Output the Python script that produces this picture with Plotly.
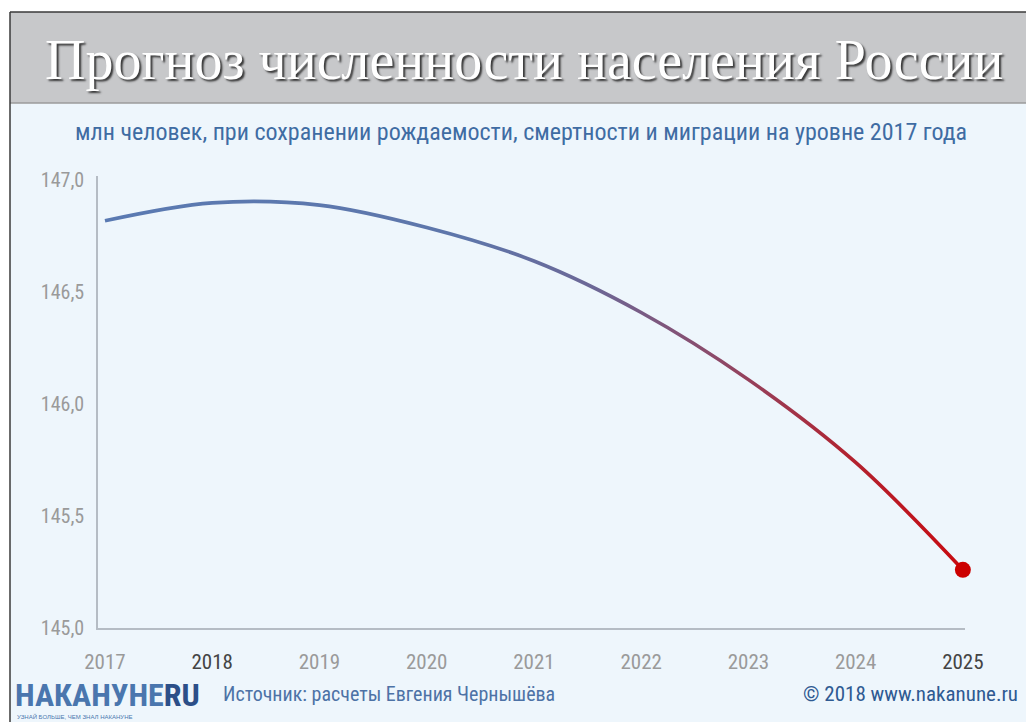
import plotly.graph_objects as go

# ---- data ----
years = [2017, 2018, 2019, 2020, 2021, 2022, 2023, 2024, 2025]
population = [146.82, 146.90, 146.89, 146.79, 146.64, 146.41, 146.11, 145.74, 145.26]
y_ticks = [145.0, 145.5, 146.0, 146.5, 147.0]
y_tick_labels = ["145,0", "145,5", "146,0", "146,5", "147,0"]
x_tick_labels = ["2017", "2018", "2019", "2020", "2021", "2022", "2023", "2024", "2025"]
highlight_years = ["2018", "2025"]

title_text = "Прогноз численности населения России"
subtitle_text = "млн человек, при сохранении рождаемости, смертности и миграции на уровне 2017 года"
source_text = "Источник: расчеты Евгения Чернышёва"
copyright_text = "© 2018 www.nakanune.ru"

W, H = 1026, 722
L, R, T, B = 98, 61, 176, 94
PW, PH = W - L - R, H - T - B


def px(x):
    return (x - L) / PW


def py(y):
    return (H - B - y) / PH


NARROW = "Liberation Sans Narrow, Roboto Condensed, Roboto, sans-serif"

fig = go.Figure()

fig.add_trace(go.Scatter(
    x=years, y=population, mode="lines",
    line=dict(color="#5a7ab2", width=3.6, shape="spline", smoothing=1.0),
    hoverinfo="skip", showlegend=False, cliponaxis=False,
))
fig.add_trace(go.Scatter(
    x=years[-1:], y=population[-1:], mode="markers",
    marker=dict(color="#cc0000", size=16, line=dict(width=0)),
    hoverinfo="skip", showlegend=False, cliponaxis=False,
))

tick_text = []
for t in x_tick_labels:
    if t in highlight_years:
        tick_text.append(f"<span style='color:#444444'>{t}</span>")
    else:
        tick_text.append(t)

shapes = [
    dict(type="rect", xref="paper", yref="paper", x0=px(10), x1=px(W + 5), y0=py(103), y1=py(12),
         fillcolor="#c7c8ca", line=dict(width=0), layer="below"),
    dict(type="line", xref="paper", yref="paper", x0=px(10), x1=px(W + 5), y0=py(103), y1=py(103),
         line=dict(color="#9b9b9b", width=1.5), layer="below"),
    dict(type="rect", xref="paper", yref="paper", x0=px(-5), x1=px(10), y0=py(H + 5), y1=py(-5),
         fillcolor="white", line=dict(width=0), layer="below"),
    dict(type="rect", xref="paper", yref="paper", x0=px(-5), x1=px(W + 5), y0=py(12), y1=py(-5),
         fillcolor="white", line=dict(width=0), layer="below"),
    dict(type="line", xref="paper", yref="paper", x0=px(10), x1=px(10), y0=py(H + 5), y1=py(12),
         line=dict(color="#3a3a3a", width=1.5), layer="below"),
    dict(type="line", xref="paper", yref="paper", x0=px(10), x1=px(W + 5), y0=py(12), y1=py(12),
         line=dict(color="#3a3a3a", width=1.5), layer="below"),
]

annotations = [
    dict(text=title_text, xref="paper", yref="paper", x=px(524), y=py(60),
         xanchor="center", yanchor="middle", showarrow=False,
         font=dict(family="Liberation Serif, DejaVu Serif, serif", size=56, color="#ffffff",
                   shadow="2px 2px 2px rgba(30,30,30,0.85)")),
    dict(text=subtitle_text, xref="paper", yref="paper", x=px(521), y=py(132),
         xanchor="center", yanchor="middle", showarrow=False,
         font=dict(family=NARROW, size=24, color="#3f6ca3")),
    dict(text="НАКАНУНЕ<span style='color:#2c4f88'>RU</span>", xref="paper", yref="paper",
         x=px(13), y=py(695), xanchor="left", yanchor="middle", showarrow=False,
         font=dict(family=NARROW, size=32, color="#4a76ae", weight="bold")),
    dict(text="УЗНАЙ БОЛЬШЕ, ЧЕМ ЗНАЛ НАКАНУНЕ", xref="paper", yref="paper",
         x=px(15), y=py(716), xanchor="left", yanchor="middle", showarrow=False,
         font=dict(family="Liberation Sans, sans-serif", size=6, color="#4a76ae")),
    dict(text=source_text, xref="paper", yref="paper", x=px(221), y=py(694),
         xanchor="left", yanchor="middle", showarrow=False,
         font=dict(family=NARROW, size=20, color="#4d72a6")),
    dict(text=copyright_text, xref="paper", yref="paper", x=px(801), y=py(694),
         xanchor="left", yanchor="middle", showarrow=False,
         font=dict(family=NARROW, size=21, color="#2f5a92")),
]

fig.update_layout(
    width=W, height=H, autosize=False,
    margin=dict(l=L, r=R, t=T, b=B, pad=0),
    paper_bgcolor="#eef6fc", plot_bgcolor="rgba(0,0,0,0)",
    showlegend=False,
    shapes=shapes, annotations=annotations,
    xaxis=dict(range=[2016.935, 2025.02], tickvals=years, ticktext=tick_text,
               showgrid=False, zeroline=False, showline=True, linecolor="#b5bcc4", linewidth=1.5,
               ticks="", ticklabelstandoff=14,
               tickfont=dict(family=NARROW, size=21, color="#9a9a9a")),
    yaxis=dict(range=[145.0, 147.02], tickvals=y_ticks, ticktext=y_tick_labels,
               showgrid=False, zeroline=False, showline=True, linecolor="#b5bcc4", linewidth=1.5,
               ticks="", ticklabelstandoff=8,
               tickfont=dict(family=NARROW, size=20, color="#9a9a9a")),
)

post = """
document.body.style.margin='0';
var gd = document.getElementById('{plot_id}');
function applyGrad(){
  var svg = gd.querySelector('svg.main-svg');
  if(!svg) return;
  var ns='http://www.w3.org/2000/svg';
  if(!document.getElementById('popgrad')){
    var defs = svg.querySelector('defs');
    if(!defs){ defs=document.createElementNS(ns,'defs'); svg.insertBefore(defs, svg.firstChild); }
    var lg=document.createElementNS(ns,'linearGradient');
    lg.setAttribute('id','popgrad');
    lg.setAttribute('x1','0'); lg.setAttribute('y1','0');
    lg.setAttribute('x2','1'); lg.setAttribute('y2','0');
    var stops=[[0,'#5a7ab2'],[0.42,'#5e76aa'],[0.57,'#6c6796'],[0.72,'#8e4866'],[0.87,'#b2222f'],[1,'#c80a10']];
    stops.forEach(function(s){
      var st=document.createElementNS(ns,'stop');
      st.setAttribute('offset', s[0]); st.setAttribute('stop-color', s[1]);
      lg.appendChild(st);
    });
    defs.appendChild(lg);
  }
  var p = gd.querySelector('.scatterlayer .trace path.js-line');
  if(p){ p.style.stroke='url(#popgrad)'; }
}
applyGrad();
gd.on('plotly_afterplot', applyGrad);
"""

fig.write_html("out.html", post_script=post, config={"displayModeBar": False})
